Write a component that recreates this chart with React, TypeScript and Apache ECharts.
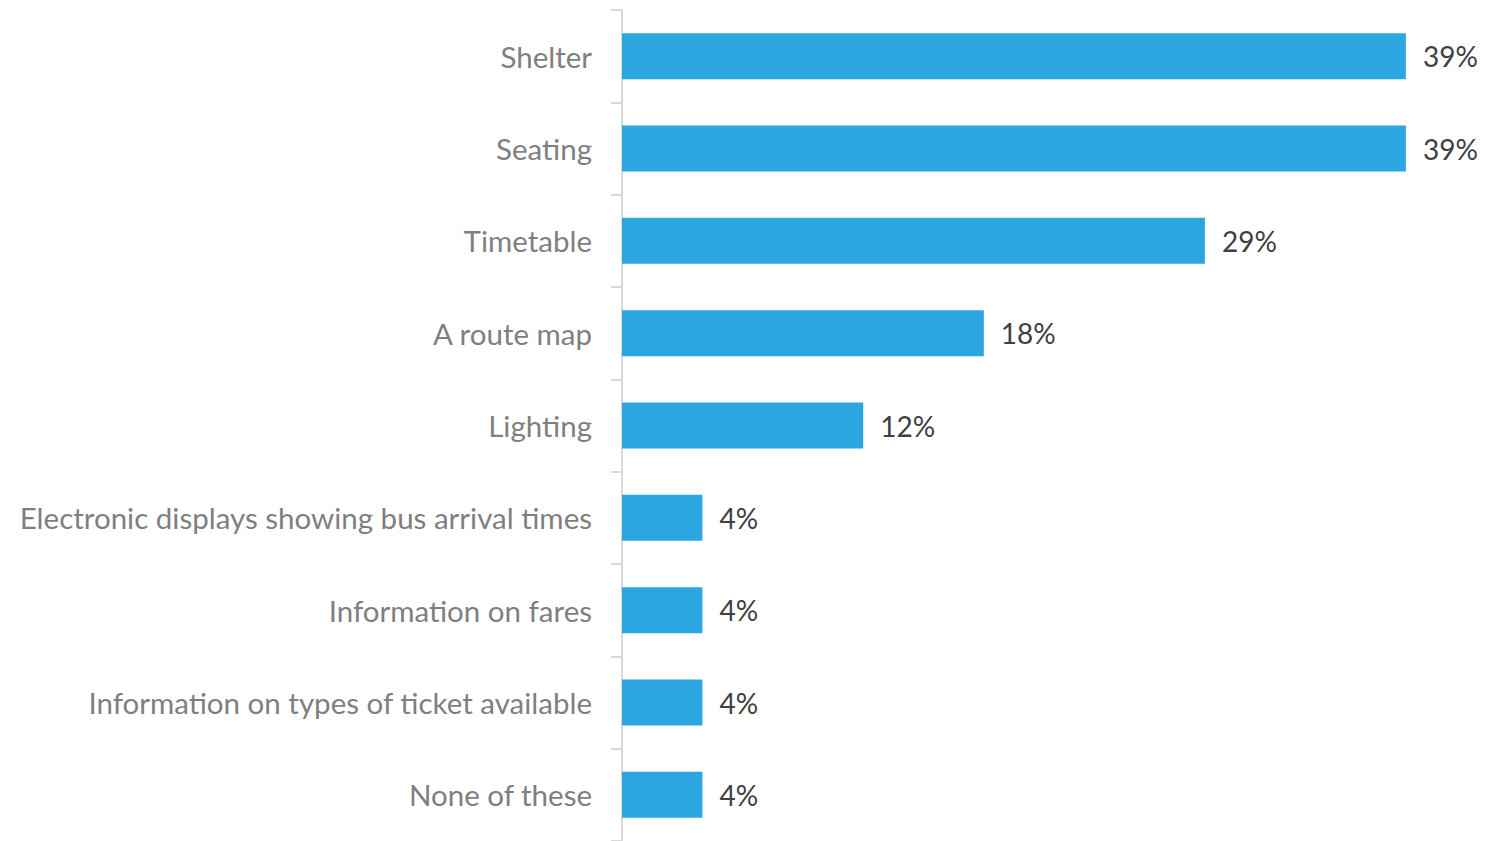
import React, { useEffect, useRef } from "react";
import * as echarts from "echarts";

const categories = [
  "Shelter",
  "Seating",
  "Timetable",
  "A route map",
  "Lighting",
  "Electronic displays showing bus arrival times",
  "Information on fares",
  "Information on types of ticket available",
  "None of these",
];
const values = [39, 39, 29, 18, 12, 4, 4, 4, 4];

export default function App() {
  const ref = useRef<HTMLDivElement>(null);
  useEffect(() => {
    const chart = echarts.init(ref.current!, null, { renderer: "svg" });
    chart.setOption({
      animation: false,
      backgroundColor: "#ffffff",
      grid: { left: 622, top: 10, width: 804, height: 834 },
      xAxis: {
        type: "value",
        min: 0,
        max: 40,
        show: false,
      },
      yAxis: {
        type: "category",
        inverse: true,
        data: categories,
        axisLine: { show: true, lineStyle: { color: "#d9d9d9", width: 2 } },
        axisTick: { show: true, length: 11, lineStyle: { color: "#d9d9d9", width: 2 } },
        axisLabel: {
          margin: 30,
          color: "#7f7f7f",
          fontSize: 29.5,
          fontFamily: "Lato, 'Open Sans', sans-serif",
        },
        splitLine: { show: false },
      },
      series: [
        {
          type: "bar",
          data: values,
          barWidth: 46,
          itemStyle: { color: "#2ca6e1" },
          label: {
            show: true,
            position: "right",
            distance: 17,
            formatter: "{c}%",
            color: "#404040",
            fontSize: 28,
            fontFamily: "Lato, 'Open Sans', sans-serif",
          },
        },
      ],
    });
    return () => chart.dispose();
  }, []);
  return <div ref={ref} style={{ position: "fixed", left: 0, top: 0, width: 1485, height: 841 }} />;
}
